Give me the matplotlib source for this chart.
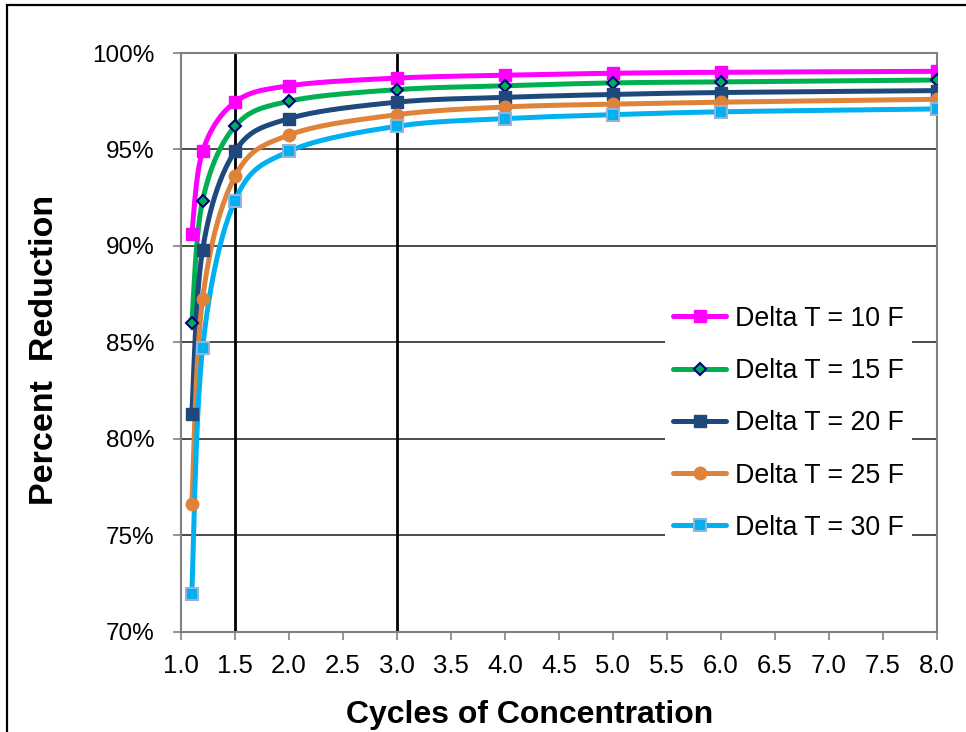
import numpy as np
import matplotlib
matplotlib.use('Agg')
import matplotlib.pyplot as plt
from matplotlib.lines import Line2D
from matplotlib.patches import Rectangle
from matplotlib.ticker import FuncFormatter, MultipleLocator

plt.rcParams['font.family'] = ['Liberation Sans', 'DejaVu Sans']

# Data
cycles = [1.1, 1.2, 1.5, 2.0, 3.0, 4.0, 5.0, 6.0, 8.0]
dt10 = [90.6, 94.9, 97.45, 98.3, 98.7, 98.85, 98.95, 99.0, 99.05]
dt15 = [86.0, 92.35, 96.2, 97.5, 98.1, 98.3, 98.45, 98.5, 98.6]
dt20 = [81.3, 89.8, 94.9, 96.6, 97.45, 97.7, 97.85, 97.95, 98.05]
dt25 = [76.6, 87.25, 93.6, 95.75, 96.8, 97.2, 97.35, 97.45, 97.6]
dt30 = [71.95, 84.7, 92.35, 94.9, 96.2, 96.6, 96.8, 96.95, 97.1]
labels = ['Delta T = 10 F', 'Delta T = 15 F', 'Delta T = 20 F',
          'Delta T = 25 F', 'Delta T = 30 F']
series = [dt10, dt15, dt20, dt25, dt30]

styles = [
    dict(color='#FF00FF', marker='s', ms=9, mfc='#FF00FF', mec='#FF00FF', mew=1),
    dict(color='#00B050', marker='D', ms=6.5, mfc='#00B050', mec='#000080', mew=1.5),
    dict(color='#1F497D', marker='s', ms=9, mfc='#1F497D', mec='#1F497D', mew=1),
    dict(color='#DE8339', marker='o', ms=9, mfc='#DE8339', mec='#DE8339', mew=1),
    dict(color='#00B0F0', marker='s', ms=8, mfc='#00B0F0', mec='#95B3D7', mew=1.5),
]


def smooth(xs, ys, sx, sy, n=40):
    # Excel-like smoothed line: cubic Bezier with Catmull-Rom control points,
    # worked out in pixel space so the shape matches the plot scaling
    p = np.column_stack([np.asarray(xs) * sx, np.asarray(ys) * sy])
    out = []
    t = np.linspace(0, 1, n)[:, None]
    for i in range(len(p) - 1):
        p0 = p[i - 1] if i > 0 else p[i]
        p1, p2 = p[i], p[i + 1]
        p3 = p[i + 2] if i + 2 < len(p) else p[i + 1]
        c1 = p1 + (p2 - p0) / 6.0
        c2 = p2 - (p3 - p1) / 6.0
        seg = ((1 - t) ** 3 * p1 + 3 * (1 - t) ** 2 * t * c1
               + 3 * (1 - t) * t ** 2 * c2 + t ** 3 * p2)
        out.append(seg if i == 0 else seg[1:])
    out = np.vstack(out)
    return out[:, 0] / sx, out[:, 1] / sy


fig = plt.figure(figsize=(9.66, 7.32), dpi=100)
ax = fig.add_axes([181 / 966, 1 - 631.5 / 732, (937 - 181) / 966, (631.5 - 53) / 732])

xmin, xmax, ymin, ymax = 1.0, 8.0, 70, 100
ax.set_xlim(xmin, xmax)
ax.set_ylim(ymin, ymax)

# pixels per data unit
sx = (937 - 181) / (xmax - xmin)
sy = (631.5 - 53) / (ymax - ymin)

# grid and reference lines
for yv in [75, 80, 85, 90, 95]:
    ax.axhline(yv, color='#1a1a1a', lw=1.1, zorder=1)
ax.axvline(1.5, color='black', lw=2.0, zorder=1)
ax.axvline(3.0, color='black', lw=2.0, zorder=1)

handles = []
for ys, st, lab in zip(series, styles, labels):
    cx, cy = smooth(cycles, ys, sx, sy)
    ax.plot(cx, cy, color=st['color'], lw=3.6, zorder=3, solid_capstyle='round')
    ax.plot(cycles, ys, ls='none', marker=st['marker'], ms=st['ms'],
            mfc=st['mfc'], mec=st['mec'], mew=st['mew'], zorder=4)
    handles.append(Line2D([], [], color=st['color'], lw=3.6, marker=st['marker'],
                          ms=st['ms'], mfc=st['mfc'], mec=st['mec'], mew=st['mew'],
                          solid_capstyle='round'))

for s in ax.spines.values():
    s.set_color('#808080')
    s.set_linewidth(1.5)

ax.xaxis.set_major_locator(MultipleLocator(0.5))
ax.yaxis.set_major_locator(MultipleLocator(5))
ax.xaxis.set_major_formatter(FuncFormatter(lambda v, p: f'{v:.1f}'))
ax.yaxis.set_major_formatter(FuncFormatter(lambda v, p: f'{v:.0f}%'))
ax.tick_params(axis='both', direction='out', length=6, width=1.2, color='#808080',
               labelcolor='black')
ax.tick_params(axis='y', pad=13, labelsize=17.5)
ax.tick_params(axis='x', pad=10, labelsize=18.5)

# axis titles placed where the reference has them
fig.text(530 / 966, 1 - 715 / 732, 'Cycles of Concentration', fontsize=23,
         fontweight='bold', ha='center', va='center')
fig.text(45 / 966, 1 - 350 / 732, 'Percent  Reduction', fontsize=24.5,
         fontweight='bold', ha='center', va='center', rotation=90)

leg = ax.legend(handles, labels, loc='upper left', bbox_to_anchor=(0.640, 0.577),
                fontsize=19.3, frameon=True, facecolor='white', edgecolor='none',
                framealpha=1, fancybox=False, numpoints=1, handlelength=2.0,
                handletextpad=0.3, labelspacing=0.98, borderpad=0.3,
                borderaxespad=0)
leg.set_zorder(5)

# outer chart border (left and top edges visible in the reference)
fig.patches.append(Rectangle((7 / 966, -0.1), 1.2, 1 - 5 / 732 + 0.1,
                             transform=fig.transFigure, fill=False,
                             edgecolor='black', lw=1.6))

fig.savefig('out.png', dpi=100)
